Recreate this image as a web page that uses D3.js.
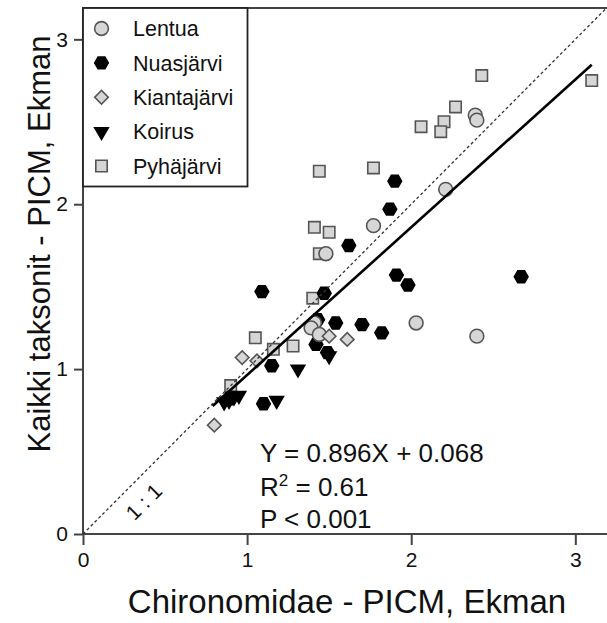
<!DOCTYPE html>
<html>
<head>
<meta charset="utf-8">
<script src="https://cdn.jsdelivr.net/npm/d3@7"></script>
<style>
  body { margin: 0; background: #fff; }
  svg { display: block; font-family: "Liberation Sans", Arial, sans-serif; }
</style>
</head>
<body>
<div id="output"></div>
<script>
// lakes, [Chironomidae PICM, all taxa PICM]
var lakes = ["Lentua", "Nuasjärvi", "Kiantajärvi", "Koirus", "Pyhäjärvi"];

var lentua = [[2.39, 2.54], [2.40, 2.51], [2.21, 2.09], [1.77, 1.87], [1.48, 1.70],
    [2.03, 1.28], [2.40, 1.20], [1.41, 1.28], [1.39, 1.25], [1.44, 1.21]];

var nuasjarvi = [[1.90, 2.14], [1.87, 1.97], [1.62, 1.75], [1.91, 1.57], [1.98, 1.51],
    [2.67, 1.56], [1.09, 1.47], [1.47, 1.46], [1.43, 1.30], [1.54, 1.28], [1.70, 1.27],
    [1.82, 1.22], [1.42, 1.15], [1.49, 1.10], [1.15, 1.02], [1.10, 0.79], [0.89, 0.82]];

var kiantajarvi = [[0.80, 0.66], [0.97, 1.07], [1.06, 1.05], [1.50, 1.20], [1.61, 1.18]];

var koirus = [[1.31, 1.00], [1.18, 0.81], [1.50, 1.08], [0.86, 0.80], [0.89, 0.81],
    [0.92, 0.83], [0.95, 0.84]];

var pyhajarvi = [[2.43, 2.78], [3.10, 2.75], [2.27, 2.59], [2.20, 2.50], [2.06, 2.47],
    [2.18, 2.44], [1.44, 2.20], [1.77, 2.22], [1.41, 1.86], [1.50, 1.83], [1.44, 1.70],
    [1.40, 1.43], [1.05, 1.19], [1.16, 1.12], [1.28, 1.14], [0.90, 0.90]];

var fitSlope = 0.896, fitIntercept = 0.068, fitRange = [0.79, 3.1];
var statLines = ["Y = 0.896X + 0.068", "R2 = 0.61", "P < 0.001"];
var xTicks = [0, 1, 2, 3], yTicks = [0, 1, 2, 3];

var w = 607, h = 623;
var plotL = 83, plotT = 8, plotR = 607, plotB = 534;

var x = d3.scaleLinear().domain([0, 3.193]).range([plotL, plotR]);
var y = d3.scaleLinear().domain([0, 3.19]).range([plotB, plotT]);

var svg = d3.select("#output").append("svg")
    .attr("width", w)
    .attr("height", h);

// hexagon, flat top
function hexPath(r) {
    var p = d3.path();
    for (var i = 0; i < 6; i++) {
        var a = Math.PI / 3 * i;
        if (i == 0) p.moveTo(r * Math.cos(a), r * Math.sin(a));
        else p.lineTo(r * Math.cos(a), r * Math.sin(a));
    }
    p.closePath();
    return p.toString();
}

var styles = {
    "Lentua":      {path: d3.symbol(d3.symbolCircle, 150)(), rot: 0, fill: "#d6d6d6", stroke: "#555"},
    "Nuasjärvi":   {path: hexPath(6.8), rot: 0, fill: "#000", stroke: "#000"},
    "Kiantajärvi": {path: d3.symbol(d3.symbolSquare, 92)(), rot: 45, fill: "#d6d6d6", stroke: "#555"},
    "Koirus":      {path: d3.symbol(d3.symbolTriangle, 80)(), rot: 180, fill: "#000", stroke: "#000"},
    "Pyhäjärvi":   {path: d3.symbol(d3.symbolSquare, 130)(), rot: 0, fill: "#d6d6d6", stroke: "#555"}
};

var seriesData = {
    "Lentua": lentua, "Nuasjärvi": nuasjarvi, "Kiantajärvi": kiantajarvi,
    "Koirus": koirus, "Pyhäjärvi": pyhajarvi
};
var drawOrder = ["Pyhäjärvi", "Nuasjärvi", "Lentua", "Kiantajärvi", "Koirus"];

// frame + axes
svg.append("path")
    .attr("d", "M" + plotR + "," + plotT + "H" + plotL + "V" + plotB + "H" + plotR)
    .attr("fill", "none")
    .attr("stroke", "#444")
    .attr("stroke-width", 2);

var xAxis = svg.append("g")
    .attr("transform", "translate(0," + plotB + ")")
    .call(d3.axisBottom(x).tickValues(xTicks).tickSize(11).tickPadding(7).tickFormat(d3.format("d")));
var yAxis = svg.append("g")
    .attr("transform", "translate(" + plotL + ",0)")
    .call(d3.axisLeft(y).tickValues(yTicks).tickSize(9).tickPadding(6).tickFormat(d3.format("d")));

[xAxis, yAxis].forEach(function (a) {
    a.attr("font-size", null).attr("font-family", null);
    a.select(".domain").remove();
    a.selectAll("line").attr("stroke", "#444").attr("stroke-width", 2);
    a.selectAll("text").style("font-size", "21px").attr("fill", "#111");
});

// points
drawOrder.forEach(function (name) {
    var s = styles[name];
    svg.append("g").selectAll("path")
        .data(seriesData[name])
        .enter()
        .append("path")
        .attr("d", s.path)
        .attr("transform", function (d) {
            return "translate(" + x(d[0]) + "," + y(d[1]) + ") rotate(" + s.rot + ")";
        })
        .attr("fill", s.fill)
        .attr("stroke", s.stroke)
        .attr("stroke-width", 1.6);
});

// 1:1 line
svg.append("line")
    .attr("x1", x(0)).attr("y1", y(0))
    .attr("x2", x(3.19)).attr("y2", y(3.19))
    .attr("stroke", "#333")
    .attr("stroke-width", 1.3)
    .attr("stroke-dasharray", "3,2.5");

// regression line
svg.append("line")
    .attr("x1", x(fitRange[0])).attr("y1", y(fitSlope * fitRange[0] + fitIntercept))
    .attr("x2", x(fitRange[1])).attr("y2", y(fitSlope * fitRange[1] + fitIntercept))
    .attr("stroke", "#000")
    .attr("stroke-width", 2.6);

svg.append("text")
    .attr("transform", "translate(149,507) rotate(-45)")
    .attr("text-anchor", "middle")
    .attr("font-size", 21)
    .attr("fill", "#111")
    .text("1 : 1");

// stats text
var stats = svg.append("g").attr("font-size", 26).attr("fill", "#111");
stats.append("text").attr("x", 260).attr("y", 462).text(statLines[0]);
var r2 = stats.append("text").attr("x", 260).attr("y", 496);
r2.append("tspan").text("R");
r2.append("tspan").attr("font-size", 17).attr("dy", -10).text("2");
r2.append("tspan").attr("dy", 10).text(statLines[1].slice(2));
stats.append("text").attr("x", 260).attr("y", 528).text(statLines[2]);

// legend
var legend = svg.append("g");
legend.append("rect")
    .attr("x", plotL).attr("y", plotT)
    .attr("width", 164.5).attr("height", 178.5)
    .attr("fill", "#fff")
    .attr("stroke", "#222")
    .attr("stroke-width", 1.8);

var legY = d3.scalePoint().domain(lakes).range([28.5, 166]);
lakes.forEach(function (name) {
    var s = styles[name];
    legend.append("path")
        .attr("d", s.path)
        .attr("transform", "translate(101.5," + legY(name) + ") rotate(" + s.rot + ")")
        .attr("fill", s.fill)
        .attr("stroke", s.stroke)
        .attr("stroke-width", 1.6);
    legend.append("text")
        .attr("x", 133)
        .attr("y", legY(name))
        .attr("dy", "0.36em")
        .attr("font-size", 21.5)
        .attr("fill", "#111")
        .text(name);
});

// axis titles
svg.append("text")
    .attr("x", 347)
    .attr("y", 613)
    .attr("text-anchor", "middle")
    .attr("font-size", 33)
    .attr("fill", "#111")
    .text("Chironomidae - PICM, Ekman");

svg.append("text")
    .attr("transform", "translate(50,244) rotate(-90)")
    .attr("text-anchor", "middle")
    .attr("font-size", 31)
    .attr("fill", "#111")
    .text("Kaikki taksonit - PICM, Ekman");
</script>
</body>
</html>
